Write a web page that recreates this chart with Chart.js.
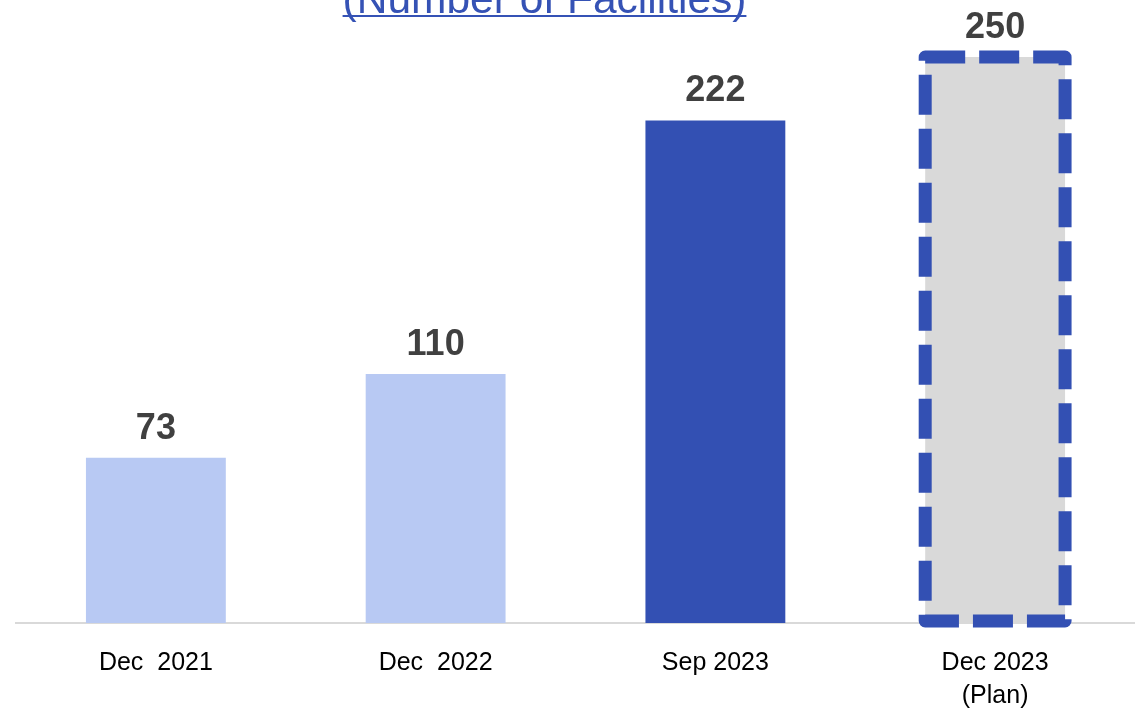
<!DOCTYPE html>
<html>
<head>
<meta charset="utf-8">
<script src="https://cdn.jsdelivr.net/npm/chart.js@4.4.0/dist/chart.umd.min.js"></script>
<style>
html,body{margin:0;padding:0;background:#fff;}
#wrap{width:1135px;height:708px;position:relative;}
</style>
</head>
<body>
<div id="wrap"><canvas id="c" width="1135" height="708"></canvas></div>
<script>
const categories = ['Dec  2021', 'Dec  2022', 'Sep 2023', ['Dec 2023', '(Plan)']];
const values = [73, 110, 222, 250];
const barColors = ['#b8c9f3', '#b8c9f3', '#3350b3', '#d9d9d9'];
const titleText = '(Number of Facilities)';

const overlay = {
  id: 'overlay',
  afterDatasetsDraw(chart) {
    const ctx = chart.ctx;
    const meta = chart.getDatasetMeta(0);
    // dashed outline on plan bar
    const b = meta.data[3];
    const l = b.x - b.width / 2, r = b.x + b.width / 2, t = b.y, bt = b.base - 2;
    ctx.save();
    ctx.strokeStyle = '#3350b3';
    ctx.lineWidth = 13;
    ctx.setLineDash([40, 14]);
    ctx.lineJoin = 'round';
    ctx.beginPath();
    ctx.moveTo(l, t);
    ctx.lineTo(r, t);
    ctx.lineTo(r, bt);
    ctx.lineTo(l, bt);
    ctx.closePath();
    ctx.stroke();
    ctx.restore();
    // value labels
    ctx.save();
    ctx.font = 'bold 36px "Liberation Sans", Arial, sans-serif';
    ctx.fillStyle = '#404040';
    ctx.textAlign = 'center';
    ctx.textBaseline = 'alphabetic';
    meta.data.forEach((el, i) => {
      ctx.fillText(String(values[i]), el.x, el.y - 19);
    });
    ctx.restore();
    // title (cut off at top)
    ctx.save();
    ctx.font = '42.5px "Liberation Sans", Arial, sans-serif';
    ctx.fillStyle = '#3552b5';
    ctx.textAlign = 'center';
    ctx.textBaseline = 'alphabetic';
    const cx = 544.5, by = 13;
    ctx.fillText(titleText, cx, by);
    const w = ctx.measureText(titleText).width;
    ctx.fillRect(cx - w / 2, 15, w, 2);
    ctx.restore();
  }
};

new Chart(document.getElementById('c'), {
  type: 'bar',
  data: {
    labels: categories,
    datasets: [{
      data: values,
      backgroundColor: barColors,
      borderWidth: 0,
      barPercentage: 0.5,
      categoryPercentage: 1.0
    }]
  },
  options: {
    responsive: false,
    animation: false,
    events: [],
    layout: { padding: { left: 16, right: 0, top: 57, bottom: 0 } },
    plugins: { legend: { display: false }, tooltip: { enabled: false }, title: { display: false } },
    scales: {
      x: {
        grid: { display: false, drawTicks: false },
        border: { display: true, color: '#d9d9d9', width: 2 },
        ticks: {
          color: '#000000',
          font: { family: '"Liberation Sans", Arial, sans-serif', size: 25, lineHeight: 1.3 },
          padding: 24,
          maxRotation: 0,
          autoSkip: false
        },
        afterFit(s) { s.height = 85; }
      },
      y: {
        display: false,
        min: 0,
        max: 250
      }
    }
  },
  plugins: [overlay]
});
</script>
</body>
</html>
